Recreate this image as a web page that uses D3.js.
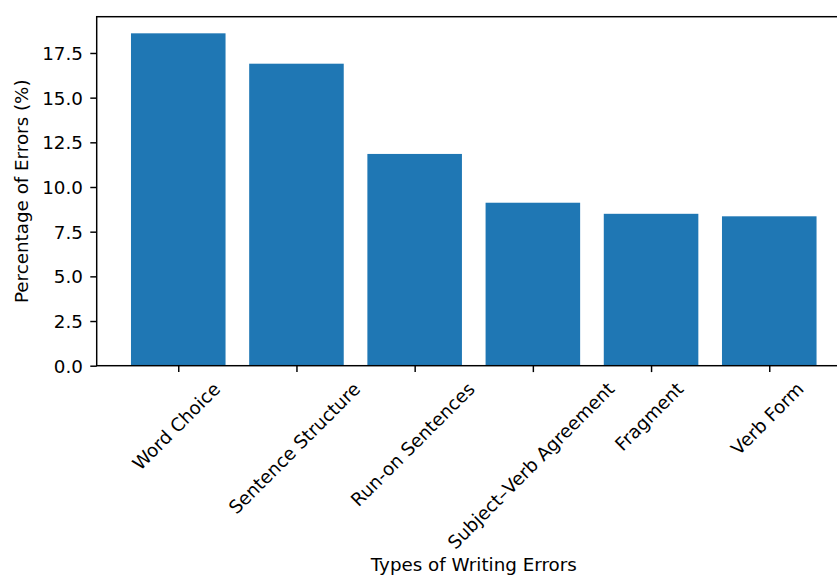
<!DOCTYPE html>
<html><head><meta charset="utf-8">
<script src="https://cdn.jsdelivr.net/npm/d3@7"></script>
<style>body{margin:0;background:#fff}svg{display:block}text{font-family:"DejaVu Sans",sans-serif;fill:#000}</style>
</head><body>
<svg id="c" width="837" height="576"></svg>
<script>
const categories = ["Word Choice","Sentence Structure","Run-on Sentences","Subject–Verb Agreement","Fragment","Verb Form"];
const values = [18.6, 16.9, 11.85, 9.12, 8.5, 8.36];
const yTicks = [0,2.5,5,7.5,10,12.5,15,17.5];
const xTitle = "Types of Writing Errors";
const yTitle = "Percentage of Errors (%)";

(function(){
const svg = d3.select("#c");
const pt = 1.83;
const fs = 10*pt, tickLen = 3.5*pt, pad = 3.5*pt;
const pLeft = 96.7, pTop = 16.7, pBottom = 365.7;
const unit = 118.2;
const n = categories.length;
const xmin = -0.4 - 0.05*(n-1+0.8), xmax = (n-1)+0.4 + 0.05*(n-1+0.8);
const pRight = pLeft + (xmax - xmin)*unit;
const x = d3.scaleLinear().domain([xmin,xmax]).range([pLeft,pRight]);
const ymax = d3.max(values)*1.05;
const y = d3.scaleLinear().domain([0,ymax]).range([pBottom,pTop]);

svg.append("g").selectAll("rect").data(values).join("rect")
  .attr("x",(d,i)=>x(i-0.4)).attr("width",(d,i)=>x(i+0.4)-x(i-0.4))
  .attr("y",d=>y(d)).attr("height",d=>y(0)-y(d)).attr("fill","#1f77b4");

const sw = 0.8*pt;
svg.append("rect").attr("x",pLeft).attr("y",pTop).attr("width",pRight-pLeft).attr("height",pBottom-pTop)
  .attr("fill","none").attr("stroke","#000").attr("stroke-width",sw);

const ya = svg.append("g").attr("transform",`translate(${pLeft},0)`)
  .call(d3.axisLeft(y).tickValues(yTicks).tickFormat(d3.format(".1f")).tickSize(tickLen).tickPadding(pad+1));
ya.select(".domain").remove();
ya.selectAll("line").attr("stroke","#000").attr("stroke-width",sw);
ya.selectAll("text").attr("font-size",fs).attr("font-family","DejaVu Sans").attr("fill","#000")
  .attr("dy",null).attr("dominant-baseline","central");

const xa = svg.append("g").attr("transform",`translate(0,${pBottom})`)
  .call(d3.axisBottom(x).tickValues(d3.range(n)).tickFormat(i=>categories[i]).tickSize(tickLen).tickPadding(pad));
xa.select(".domain").remove();
xa.selectAll("line").attr("stroke","#000").attr("stroke-width",sw);
xa.selectAll("text").attr("font-size",fs).attr("font-family","DejaVu Sans").attr("fill","#000")
  .attr("dy",null).attr("text-anchor","middle").attr("dominant-baseline","central")
  .each(function(){
    const t = d3.select(this);
    const w = this.getComputedTextLength();
    const h = fs*1.1;
    const half = (w+h)/(2*Math.SQRT2);
    t.attr("y",null).attr("transform",`translate(-2.5,${tickLen+pad+half}) rotate(-45)`);
  });

svg.append("text").attr("x",(pLeft+pRight)/2).attr("y",571).attr("text-anchor","middle")
  .attr("font-size",fs).text(xTitle);
svg.append("text").attr("transform",`translate(21,${(pTop+pBottom)/2}) rotate(-90)`)
  .attr("text-anchor","middle").attr("dominant-baseline","central").attr("font-size",fs).text(yTitle);
})();
</script>
</body></html>
